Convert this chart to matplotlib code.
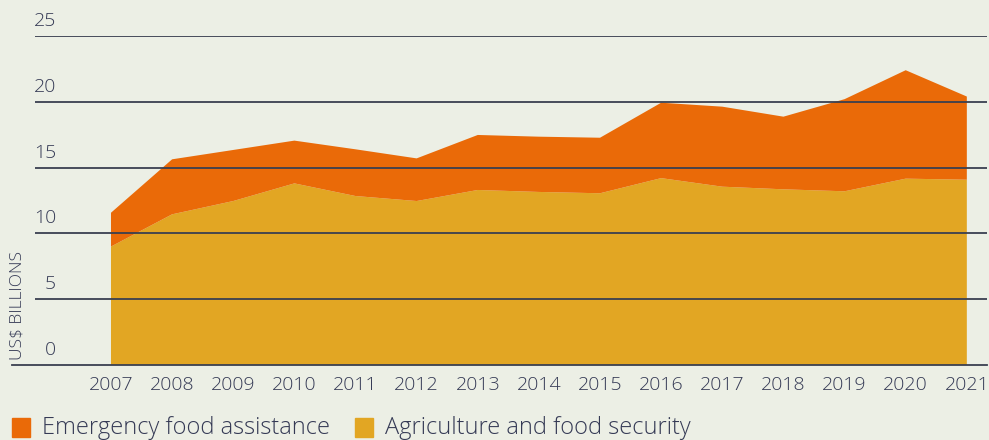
import numpy as np
import matplotlib.pyplot as plt
from matplotlib.transforms import blended_transform_factory

years = np.arange(2007, 2022)
# stacked values (US$ billions)
agriculture = [9.0, 11.45, 12.46, 13.8, 12.84, 12.46, 13.3, 13.15, 13.05,
               14.2, 13.55, 13.35, 13.2, 14.16, 14.08]
total = [11.57, 15.63, 16.34, 17.05, 16.39, 15.7, 17.48, 17.35, 17.27,
         19.93, 19.63, 18.87, 20.2, 22.4, 20.4]
emergency = [t - a for t, a in zip(total, agriculture)]

y_ticks = [0, 5, 10, 15, 20, 25]
series_labels = ['Emergency food assistance', 'Agriculture and food security']

bg = '#ECEFE5'
orange = '#EA6A08'
gold = '#E2A623'
text_col = '#353a55'
line_col = '#3a3f50'

plt.rcParams['font.family'] = ['Open Sans', 'DejaVu Sans']

W, H = 989, 440
fig = plt.figure(figsize=(W / 100, H / 100), dpi=100, facecolor=bg)
ax = fig.add_axes([35 / W, 75 / H, 952 / W, 329 / H])
ax.set_facecolor(bg)

ax.stackplot(years, agriculture, emergency, colors=[gold, orange],
             linewidth=0, zorder=2)

ax.set_xlim(2005.757, 2021.33)
ax.set_ylim(0, 25)

for v in y_ticks[1:]:
    ax.axhline(v, color=line_col, lw=1.3, zorder=3)
ax.axhline(0, xmin=-0.024, xmax=1, color=line_col, lw=1.3, zorder=3, clip_on=False)

trans = blended_transform_factory(ax.transAxes, ax.transData)
for v in y_ticks:
    ax.text(0.022, v + 0.45, str(v), transform=trans, ha='right', va='bottom',
            fontsize=14, color=text_col, fontweight='light')

ax.set_yticks([])
ax.set_xticks(years)
ax.set_xticklabels([str(y) for y in years], fontsize=14, color=text_col,
                   fontweight='light')
ax.tick_params(axis='x', length=0, pad=8)
for s in ax.spines.values():
    s.set_visible(False)

fig.text(18 / W, 80 / H, 'US$ BILLIONS', rotation=90, ha='center', va='bottom',
         fontsize=12.5, color=text_col, fontweight='light')

# legend drawn by hand: square patch + label
legend_x = [(12, 42), (355, 385)]
for (px, tx), lab, col in zip(legend_x, series_labels, [orange, gold]):
    fig.patches.append(plt.Rectangle((px / W, (H - 437) / H), 18 / W, 19 / H,
                                     color=col, transform=fig.transFigure))
    fig.text(tx / W, (H - 428) / H, lab, ha='left', va='center', fontsize=17,
             color=text_col, fontweight='light')

fig.savefig('out.png', dpi=100, facecolor=bg)
